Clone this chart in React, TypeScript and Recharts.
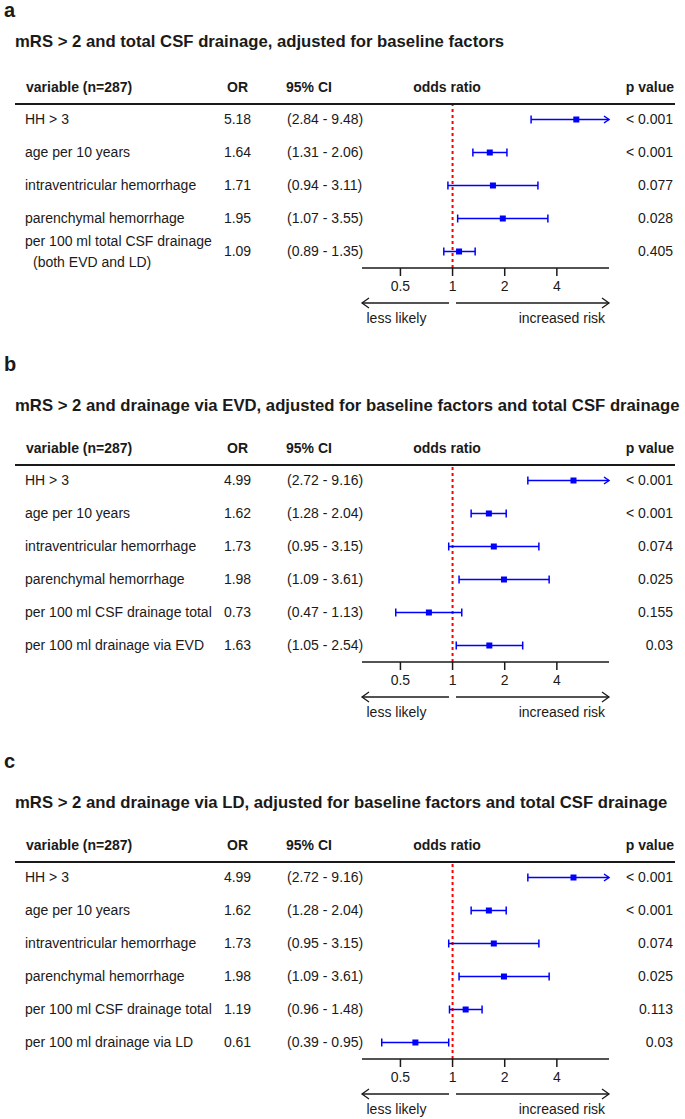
import React from 'react';
import { ComposedChart, Scatter, XAxis, YAxis, ReferenceLine } from 'recharts';

const FONT = '"Liberation Sans", Arial, Helvetica, sans-serif';
const INK = '#1a1a1a';
const BLUE = '#0000ff';
const X_MIN = 0.3;
const X_MAX = 8;
const X_TICKS = [0.5, 1, 2, 4];
const ROW_H = 33;

// a: total CSF drainage
const labelsA = ['HH > 3', 'age per 10 years', 'intraventricular hemorrhage', 'parenchymal hemorrhage', 'per 100 ml total CSF drainage\n(both EVD and LD)'];
const orA = [5.18, 1.64, 1.71, 1.95, 1.09];
const loA = [2.84, 1.31, 0.94, 1.07, 0.89];
const hiA = [9.48, 2.06, 3.11, 3.55, 1.35];
const pA = ['< 0.001', '< 0.001', '0.077', '0.028', '0.405'];

// b: drainage via EVD
const labelsB = ['HH > 3', 'age per 10 years', 'intraventricular hemorrhage', 'parenchymal hemorrhage', 'per 100 ml CSF drainage total', 'per 100 ml drainage via EVD'];
const orB = [4.99, 1.62, 1.73, 1.98, 0.73, 1.63];
const loB = [2.72, 1.28, 0.95, 1.09, 0.47, 1.05];
const hiB = [9.16, 2.04, 3.15, 3.61, 1.13, 2.54];
const pB = ['< 0.001', '< 0.001', '0.074', '0.025', '0.155', '0.03'];

// c: drainage via LD
const labelsC = ['HH > 3', 'age per 10 years', 'intraventricular hemorrhage', 'parenchymal hemorrhage', 'per 100 ml CSF drainage total', 'per 100 ml drainage via LD'];
const orC = [4.99, 1.62, 1.73, 1.98, 1.19, 0.61];
const loC = [2.72, 1.28, 0.95, 1.09, 0.96, 0.39];
const hiC = [9.16, 2.04, 3.15, 3.61, 1.48, 0.95];
const pC = ['< 0.001', '< 0.001', '0.074', '0.025', '0.113', '0.03'];

type Row = { row: number; label: string; or: number; lo: number; hi: number; p: string };

function makeRows(labels: string[], or: number[], lo: number[], hi: number[], p: string[]): Row[] {
  return labels.map((label, i) => ({ row: i, label, or: or[i], lo: lo[i], hi: hi[i], p: p[i] }));
}

const panels = [
  { letter: 'a', title: 'mRS > 2 and total CSF drainage, adjusted for baseline factors', rows: makeRows(labelsA, orA, loA, hiA, pA), letterY: 17, titleY: 47, lineY: 104 },
  { letter: 'b', title: 'mRS > 2 and drainage via EVD, adjusted for baseline factors and total CSF drainage', rows: makeRows(labelsB, orB, loB, hiB, pB), letterY: 371, titleY: 411, lineY: 465 },
  { letter: 'c', title: 'mRS > 2 and drainage via LD, adjusted for baseline factors and total CSF drainage', rows: makeRows(labelsC, orC, loC, hiC, pC), letterY: 768, titleY: 808, lineY: 862 },
];

function LeftTick(props: any) {
  const { y, payload, rows } = props;
  const r: Row = rows[payload.value];
  if (!r) return null;
  const lines = r.label.split('\n');
  return (
    <g fontFamily={FONT} fontSize={14} fill={INK}>
      {lines.map((ln, k) => (
        <text key={k} x={k === 0 ? 25 : 33} y={y + (k - (lines.length - 1) / 2) * 21.5} dy="0.35em">{ln}</text>
      ))}
      <text x={237.5} y={y} dy="0.35em" textAnchor="middle">{r.or.toFixed(2)}</text>
      <text x={287} y={y} dy="0.35em">{`(${r.lo.toFixed(2)} - ${r.hi.toFixed(2)})`}</text>
    </g>
  );
}

function RightTick(props: any) {
  const { y, payload, rows } = props;
  const r: Row = rows[payload.value];
  if (!r) return null;
  return (
    <text x={673} y={y} dy="0.35em" textAnchor="end" fontFamily={FONT} fontSize={14} fill={INK}>{r.p}</text>
  );
}

// CI whisker: caps at both ends, open arrow when the upper limit runs off the axis
function CiShape(props: any) {
  const { x1, y1, x2, clipped } = props;
  const y = y1;
  return (
    <g stroke={BLUE} strokeWidth={1.5} fill="none">
      <line x1={x1} y1={y} x2={x2} y2={y} />
      <line x1={x1} y1={y - 4} x2={x1} y2={y + 4} />
      {clipped
        ? <path d={`M${x2 - 5},${y - 3.5} L${x2},${y} L${x2 - 5},${y + 3.5}`} />
        : <line x1={x2} y1={y - 4} x2={x2} y2={y + 4} />}
    </g>
  );
}

function ForestChart({ rows }: { rows: Row[] }) {
  const n = rows.length;
  const ticks = rows.map((r) => r.row);
  return (
    <ComposedChart width={685} height={ROW_H * n + 30} data={rows} margin={{ top: 0, right: 0, bottom: 0, left: 0 }}>
      <XAxis
        dataKey="or"
        type="number"
        scale="log"
        domain={[X_MIN, X_MAX]}
        allowDataOverflow
        ticks={X_TICKS}
        interval={0}
        tickSize={8}
        tickMargin={5}
        height={30}
        axisLine={{ stroke: INK, strokeWidth: 1.5 }}
        tickLine={{ stroke: INK, strokeWidth: 1.5 }}
        tick={{ fontSize: 14, fill: INK, fontFamily: FONT }}
      />
      <YAxis
        yAxisId="left"
        dataKey="row"
        type="number"
        domain={[-0.5, n - 0.5]}
        reversed
        allowDataOverflow
        ticks={ticks}
        interval={0}
        width={362}
        axisLine={false}
        tickLine={false}
        tickSize={0}
        tickMargin={0}
        tick={(p: any) => <LeftTick {...p} rows={rows} />}
      />
      <YAxis
        yAxisId="right"
        orientation="right"
        dataKey="row"
        type="number"
        domain={[-0.5, n - 0.5]}
        reversed
        allowDataOverflow
        ticks={ticks}
        interval={0}
        width={76}
        axisLine={false}
        tickLine={false}
        tickSize={0}
        tickMargin={0}
        tick={(p: any) => <RightTick {...p} rows={rows} />}
      />
      <ReferenceLine x={1} yAxisId="left" stroke="#ff0000" strokeWidth={2} strokeDasharray="3 3" ifOverflow="visible" />
      {rows.map((r) => (
        <ReferenceLine
          key={r.row}
          yAxisId="left"
          ifOverflow="visible"
          segment={[{ x: r.lo, y: r.row }, { x: Math.min(r.hi, X_MAX), y: r.row }]}
          shape={(p: any) => <CiShape {...p} clipped={r.hi > X_MAX} />}
        />
      ))}
      <Scatter
        yAxisId="left"
        isAnimationActive={false}
        shape={(p: any) => <rect x={p.cx - 3} y={p.cy - 3} width={6} height={6} fill={BLUE} />}
      />
    </ComposedChart>
  );
}

function PanelText({ lineY, n }: { lineY: number; n: number }) {
  const axisY = lineY - 1 + ROW_H * n;
  const ay = axisY + 35;
  const hy = lineY - 12;
  return (
    <g fontFamily={FONT} fill={INK}>
      <text x={26} y={hy} fontSize={14} fontWeight="bold">variable (n=287)</text>
      <text x={237.5} y={hy} fontSize={14} fontWeight="bold" textAnchor="middle">OR</text>
      <text x={286} y={hy} fontSize={14} fontWeight="bold">95% CI</text>
      <text x={447} y={hy} fontSize={14} fontWeight="bold" textAnchor="middle">odds ratio</text>
      <text x={674} y={hy} fontSize={14} fontWeight="bold" textAnchor="end">p value</text>
      <rect x={15} y={lineY - 1} width={660} height={2} fill={INK} />
      <g stroke={INK} strokeWidth={1.3} fill="none">
        <line x1={362} y1={ay} x2={449} y2={ay} />
        <path d={`M${369},${ay - 5} L362,${ay} L${369},${ay + 5}`} />
        <line x1={456} y1={ay} x2={609} y2={ay} />
        <path d={`M${602},${ay - 5} L609,${ay} L${602},${ay + 5}`} />
      </g>
      <text x={366.5} y={axisY + 55} fontSize={14}>less likely</text>
      <text x={605} y={axisY + 55} fontSize={14} textAnchor="end">increased risk</text>
    </g>
  );
}

export default function App() {
  return (
    <div style={{ position: 'absolute', left: 0, top: 0, width: 685, height: 1119, background: '#fff', fontFamily: FONT }}>
      {panels.map((pn) => (
        <div key={pn.letter} style={{ position: 'absolute', left: 0, top: pn.lineY - 1 }}>
          <ForestChart rows={pn.rows} />
        </div>
      ))}
      <svg width={685} height={1119} style={{ position: 'absolute', left: 0, top: 0, pointerEvents: 'none' }}>
        {panels.map((pn) => (
          <g key={pn.letter}>
            <text x={4} y={pn.letterY} fontFamily={FONT} fontSize={20} fontWeight="bold" fill={INK}>{pn.letter}</text>
            <text x={15} y={pn.titleY} fontFamily={FONT} fontSize={16.7} fontWeight="bold" fill={INK}>{pn.title}</text>
            <PanelText lineY={pn.lineY} n={pn.rows.length} />
          </g>
        ))}
      </svg>
    </div>
  );
}
